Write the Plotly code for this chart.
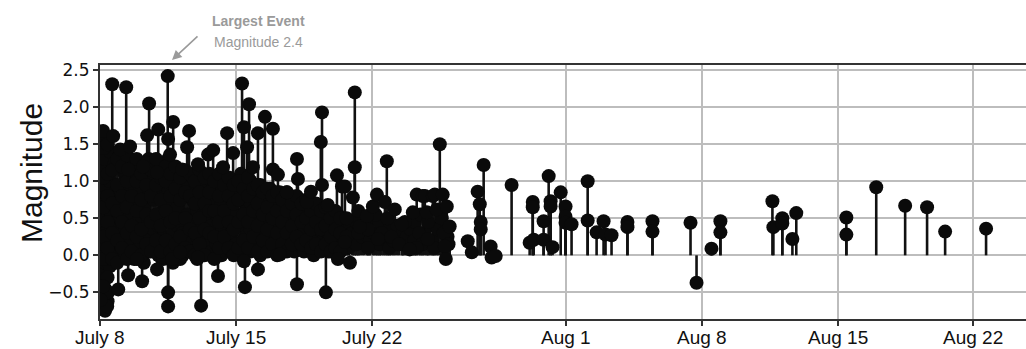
import pandas as pd
import plotly.graph_objects as go

# ---------------- data (days since July 8, magnitude) ----------------
start_date = "2023-07-08"

# dense swarm of small events, grouped by time column
swarm_day = [0.05, 0.12, 0.25, 0.5, 0.75, 1.0, 1.25, 1.5, 1.75, 2.0,
             2.25, 2.5, 2.75, 3.0, 3.25, 3.5, 3.75, 4.0, 4.25, 4.5,
             4.75, 5.0, 5.25, 5.5, 5.75, 6.0, 6.25, 6.5, 6.75, 7.0,
             7.25, 7.5, 7.75, 8.0, 8.25, 8.5, 8.75, 9.0, 9.25, 9.5,
             9.75, 10.0, 10.25, 10.5, 10.75, 11.0, 11.25, 11.5, 11.75, 12.0,
             12.25, 12.5, 12.8, 13.0, 13.2, 13.5, 13.6, 13.9, 14.1, 14.4,
             14.6, 14.9, 15.1, 15.3, 15.6, 15.8, 16.0, 16.2, 16.45, 16.6,
             17.0, 17.1, 17.4, 17.6, 17.9]
swarm_mags = [
    [1.62, 1.2, 0.8, 0.4, 0.0, -0.3, -0.72],
    [1.55, 0.95, 0.55, 0.15, -0.2, -0.6],
    [1.3, 0.7, 0.3, -0.1, -0.45, -0.75],
    [1.4, 1.0, 0.6, 0.2, -0.15],
    [1.25, 0.85, 0.45, 0.05],
    [1.35, 0.9, 0.5, 0.15],
    [1.1, 0.75, 0.35, 0.0],
    [1.3, 0.95, 0.55, 0.2],
    [1.05, 0.7, 0.3, -0.05],
    [1.25, 0.85, 0.5, 0.1],
    [1.15, 0.65, 0.25, -0.1],
    [1.3, 0.9, 0.45, 0.05],
    [1.05, 0.75, 0.35, 0.15],
    [1.2, 0.8, 0.4, 0.0],
    [1.1, 0.6, 0.25, -0.05],
    [1.3, 0.9, 0.5, 0.1],
    [1.15, 0.7, 0.3, -0.1],
    [1.0, 0.65, 0.4, 0.05],
    [1.1, 0.8, 0.3, 0.0],
    [0.95, 0.55, 0.2],
    [1.05, 0.75, 0.4, 0.05],
    [0.9, 0.6, 0.25, -0.05],
    [1.1, 0.7, 0.35, 0.1],
    [0.95, 0.5, 0.2],
    [1.0, 0.75, 0.4, 0.05],
    [0.9, 0.55, 0.15],
    [1.05, 0.7, 0.35, 0.0],
    [0.85, 0.5, 0.2],
    [1.0, 0.65, 0.3, 0.05],
    [0.9, 0.55, 0.15],
    [1.1, 0.75, 0.4, 0.0],
    [0.95, 0.6, 0.25],
    [1.0, 0.7, 0.35, 0.05],
    [0.85, 0.5, 0.15],
    [0.95, 0.6, 0.3, 0.0],
    [0.8, 0.45, 0.1],
    [0.9, 0.55, 0.25],
    [0.75, 0.4, 0.05],
    [0.85, 0.5, 0.2],
    [0.7, 0.35, 0.1],
    [0.8, 0.5, 0.15],
    [0.65, 0.3, 0.05],
    [0.75, 0.45, 0.15],
    [0.6, 0.3, 0.05],
    [0.7, 0.4, 0.1],
    [0.55, 0.25, 0.0],
    [0.65, 0.35, 0.1],
    [0.5, 0.2],
    [0.6, 0.3, 0.05],
    [0.45, 0.2],
    [0.55, 0.25, 0.05],
    [0.4, 0.15],
    [0.35, 0.1],
    [0.3],
    [0.45, 0.15],
    [0.25],
    [0.4],
    [0.2, 0.5],
    [0.3],
    [0.45, 0.15],
    [0.25],
    [0.35, 0.1],
    [0.2],
    [0.4],
    [0.15, 0.3],
    [0.25],
    [0.35],
    [0.45, 0.2],
    [0.3],
    [0.15],
    [0.4],
    [0.2],
    [0.35],
    [0.5],
    [0.25],
]

# second interleaved set of swarm columns
swarm2_day = [0.18, 0.38, 0.62, 0.88, 1.12, 1.38, 1.62, 1.88, 2.12, 2.38,
              2.62, 2.88, 3.12, 3.38, 3.62, 3.88, 4.12, 4.38, 4.62, 4.88,
              5.12, 5.38, 5.62, 5.88, 6.12, 6.38, 6.62, 6.88, 7.12, 7.38,
              7.62, 7.88, 8.12, 8.38, 8.62, 8.88, 9.12, 9.38, 9.62, 9.88,
              10.12, 10.38, 10.62, 10.88, 11.12, 11.38, 11.62, 11.88, 12.12, 12.38,
              12.7, 13.3, 13.8, 14.2, 14.5, 14.8, 15.0, 15.4, 15.7, 16.3,
              16.5, 16.9, 17.2, 17.7, 17.95]
swarm2_mags = [
    [1.45, 1.05, 0.65, 0.25, -0.05, -0.5],
    [1.5, 1.1, 0.8, 0.45, 0.1, -0.3, -0.62],
    [1.15, 0.7, 0.3, -0.05],
    [1.3, 0.95, 0.6, 0.2, -0.1],
    [1.2, 0.8, 0.45, 0.1],
    [1.35, 1.0, 0.65, 0.3, -0.05],
    [1.15, 0.8, 0.4, 0.05],
    [1.3, 1.0, 0.6, 0.25],
    [1.1, 0.75, 0.35, 0.0],
    [1.25, 0.95, 0.55, 0.15],
    [1.15, 0.8, 0.45, 0.05],
    [1.3, 0.95, 0.55, 0.2],
    [1.05, 0.75, 0.4, 0.05],
    [1.2, 1.0, 0.6, 0.2],
    [1.1, 0.8, 0.45, 0.05],
    [1.2, 0.9, 0.5, 0.15],
    [1.05, 0.75, 0.25, -0.05],
    [1.15, 0.85, 0.5, 0.1],
    [1.1, 0.8, 0.35, 0.05],
    [1.0, 0.7, 0.3, 0.0],
    [1.15, 0.85, 0.5, 0.15],
    [1.05, 0.7, 0.35, 0.0],
    [1.1, 0.85, 0.6, 0.3],
    [1.0, 0.6, 0.25, -0.05],
    [1.1, 0.8, 0.45, 0.1],
    [0.95, 0.6, 0.25],
    [1.05, 0.8, 0.45, 0.1],
    [0.95, 0.7, 0.35, 0.0],
    [1.0, 0.75, 0.45, 0.1],
    [0.9, 0.55, 0.2],
    [1.05, 0.8, 0.45, 0.1],
    [0.9, 0.6, 0.25],
    [0.95, 0.7, 0.4, 0.05],
    [0.85, 0.55, 0.2],
    [0.9, 0.65, 0.35, 0.05],
    [0.8, 0.5, 0.15],
    [0.85, 0.6, 0.3, 0.0],
    [0.75, 0.45, 0.15],
    [0.85, 0.6, 0.3, 0.05],
    [0.7, 0.4, 0.15],
    [0.8, 0.55, 0.25],
    [0.7, 0.45, 0.15],
    [0.75, 0.5, 0.2],
    [0.6, 0.35, 0.1],
    [0.7, 0.45, 0.15],
    [0.6, 0.35, 0.05],
    [0.65, 0.4, 0.15],
    [0.5, 0.25, 0.05],
    [0.6, 0.35, 0.1],
    [0.5, 0.3, 0.05],
    [0.5, 0.25],
    [0.6, 0.3],
    [0.35, 0.1],
    [0.55],
    [0.3],
    [0.5],
    [0.25],
    [0.15],
    [0.45],
    [0.1],
    [0.55],
    [0.45],
    [0.1],
    [0.3],
    [0.15],
]

# notable (larger / deeper) events during the swarm
peak_day = [0.15, 0.36, 0.41, 0.15, 0.02, 0.62, 0.67, 0.93, 1.03, 1.34,
            1.44, 1.44, 1.54, 1.90, 2.16, 2.21, 2.42, 2.52, 2.93, 2.93,
            2.99, 3.48, 3.50, 3.50, 3.50, 3.60, 3.71, 3.76, 4.12, 4.22,
            4.48, 4.58, 5.04, 5.04, 5.20, 5.56, 5.82, 6.07, 6.33, 6.54,
            6.85, 7.31, 7.41, 7.41, 7.46, 7.57, 7.67, 7.87, 8.13, 8.13,
            8.49, 8.90, 8.90, 9.16, 9.26, 9.62, 10.14, 10.19, 10.14, 10.65,
            10.86, 11.37, 11.43, 11.43, 11.63, 11.73, 12.20, 12.25, 12.46, 12.61,
            12.61, 12.87, 13.02, 13.12, 13.12, 13.38, 13.74, 14.05, 14.26, 14.31,
            14.67, 14.77, 15.18, 15.54, 15.95, 16.11, 16.31, 16.62, 16.73, 16.83,
            16.88, 17.14, 17.24, 17.34, 17.50, 17.65, 17.76, 17.81, 17.86, 18.01]
peak_mag = [1.68, -0.69, -0.50, -0.42, -0.60, 2.31, 1.61, -0.46, 1.43, 2.27,
            1.16, -0.27, 1.47, -0.05, -0.35, 1.20, 1.62, 2.05, 1.12, -0.19,
            1.70, 2.42, 1.57, -0.50, -0.69, 1.36, -0.05, 1.80, 0.04, 1.16,
            1.46, 1.68, 1.23, -0.03, -0.68, 1.36, 1.42, -0.28, 1.19, 1.65,
            1.38, 2.32, 1.73, -0.08, -0.43, 1.46, 2.04, 1.19, 1.65, -0.19,
            1.87, 1.71, 1.16, 1.09, 0.01, 0.85, 1.30, 1.03, -0.39, 0.72,
            0.86, 1.53, 1.93, 0.95, -0.50, 0.68, 1.08, -0.05, 0.93, 0.93,
            0.18, -0.10, 0.78, 2.20, 1.19, 0.39, 0.53, 0.66, 0.82, 0.22,
            0.72, 1.27, 0.62, 0.42, 0.08, 0.58, 0.82, 0.80, 0.80, 0.58,
            0.22, 0.80, 0.82, 0.62, 1.50, 0.82, 0.12, -0.05, 0.66, 0.39]

# later, sparse events
late_day = [18.94, 19.15, 19.45, 19.56, 19.61, 19.61, 19.76, 20.12, 20.17, 20.38,
            21.20, 22.13, 22.29, 22.29, 22.34, 22.85, 22.85, 23.11, 23.21, 23.21,
            23.31, 23.73, 23.98, 23.98, 23.98, 24.29, 25.12, 25.12, 25.58, 25.94,
            26.04, 26.35, 27.17, 27.17, 28.46, 28.46, 30.42, 30.73, 31.50, 31.96,
            31.96, 34.64, 34.69, 35.15, 35.15, 35.67, 35.87, 38.45, 38.45, 39.99,
            41.48, 42.61, 43.54, 45.65]
late_mag = [0.19, 0.04, 0.86, 0.69, 0.45, 0.35, 1.22, 0.12, -0.03, -0.01,
            0.95, 0.17, 0.72, 0.65, 0.21, 0.46, 0.21, 1.07, 0.73, 0.66,
            0.11, 0.85, 0.66, 0.52, 0.44, 0.42, 1.00, 0.47, 0.31, 0.46,
            0.28, 0.27, 0.45, 0.38, 0.46, 0.32, 0.44, -0.37, 0.09, 0.46,
            0.31, 0.73, 0.38, 0.50, 0.43, 0.22, 0.57, 0.51, 0.28, 0.92,
            0.67, 0.65, 0.32, 0.36]

tick_dates = ["2023-07-08", "2023-07-15", "2023-07-22", "2023-08-01",
              "2023-08-08", "2023-08-15", "2023-08-22"]
tick_labels = ["July 8", "July 15", "July 22", "Aug 1", "Aug 8", "Aug 15", "Aug 22"]
y_ticks = [-0.5, 0.0, 0.5, 1.0, 1.5, 2.0, 2.5]

# ---------------- build ----------------
assert len(swarm_day) == len(swarm_mags)
assert len(swarm2_day) == len(swarm2_mags)
assert len(peak_day) == len(peak_mag)
assert len(late_day) == len(late_mag)

days, mags = [], []
for dl, ml in ((swarm_day, swarm_mags), (swarm2_day, swarm2_mags)):
    for d, ms in zip(dl, ml):
        for m in ms:
            days.append(d)
            mags.append(m)
days += peak_day + late_day
mags += peak_mag + late_mag

t0 = pd.Timestamp(start_date)


def to_time(d):
    return (t0 + pd.Timedelta(days=d)).strftime("%Y-%m-%d %H:%M:%S")


times = [to_time(d) for d in days]

stem_x, stem_y = [], []
for t, m in zip(times, mags):
    stem_x += [t, t, None]
    stem_y += [0, m, None]

fig = go.Figure()
fig.add_trace(go.Scatter(x=stem_x, y=stem_y, mode="lines",
                         line=dict(color="#111111", width=2.6),
                         hoverinfo="skip", showlegend=False))
fig.add_trace(go.Scatter(x=times, y=mags, mode="markers",
                         marker=dict(size=14, color="#0a0a0a", line=dict(width=0)),
                         showlegend=False))

px_per_day = 19.41
plot_w = 926
plot_h = 254
x_end = to_time(plot_w / px_per_day)

grid_c = "#bdbdbd"
fig.update_layout(
    width=1026, height=349,
    margin=dict(l=100, r=0, t=65, b=30, autoexpand=False),
    plot_bgcolor="white", paper_bgcolor="white",
    showlegend=False,
    xaxis=dict(
        range=[to_time(-0.01), x_end],
        tickmode="array", tickvals=tick_dates, ticktext=tick_labels,
        showticklabels=False,
        showgrid=True, gridcolor=grid_c, gridwidth=1.5,
        showline=True, linecolor="#333333", linewidth=2, mirror=True,
        ticks="outside", ticklen=5, tickcolor="#333333", tickwidth=1.5,
        zeroline=False, automargin=False,
    ),
    yaxis=dict(
        range=[-0.86, 2.57],
        tickmode="array", tickvals=y_ticks, tickformat=".1f",
        showgrid=True, gridcolor=grid_c, gridwidth=1.5,
        showline=True, linecolor="#333333", linewidth=2,
        ticks="outside", ticklen=5, tickcolor="#333333", tickwidth=1.5,
        tickfont=dict(family="DejaVu Sans, sans-serif", size=17, color="#111"),
        zeroline=False, automargin=False,
    ),
)


def px_x(x):
    return (x - 100) / plot_w


def px_y(y):
    return (319 - y) / plot_h


# x tick labels (placed as text so they sit where the reference has them)
for tv, tl in zip(tick_dates, tick_labels):
    fig.add_annotation(text=tl, xref="x", yref="paper", x=tv, y=px_y(337),
                       xanchor="center", yanchor="middle", showarrow=False,
                       font=dict(family="Liberation Sans, Arial, sans-serif", size=19, color="#111"))

# y-axis title
fig.add_annotation(text="Magnitude", textangle=-90, xref="paper", yref="paper",
                   x=px_x(31), y=px_y(173), xanchor="center", yanchor="middle",
                   showarrow=False,
                   font=dict(family="Liberation Sans, Arial, sans-serif", size=30, color="#111"))

# largest event callout
fig.add_annotation(text="", xref="paper", yref="paper",
                   x=px_x(172), y=px_y(60), axref="pixel", ayref="pixel",
                   ax=27, ay=-25, showarrow=True,
                   arrowhead=2, arrowsize=1.2, arrowwidth=1.6, arrowcolor="#9a9a9a")
fig.add_annotation(text="<b>Largest Event</b>", xref="paper", yref="paper",
                   x=px_x(258), y=px_y(21), xanchor="center", yanchor="middle",
                   showarrow=False,
                   font=dict(family="Liberation Sans, Arial, sans-serif", size=14, color="#9a9a9a"))
fig.add_annotation(text="Magnitude 2.4", xref="paper", yref="paper",
                   x=px_x(258), y=px_y(42), xanchor="center", yanchor="middle",
                   showarrow=False,
                   font=dict(family="Liberation Sans, Arial, sans-serif", size=14, color="#9a9a9a"))

fig.write_html("out.html", config={"displayModeBar": False},
               post_script="document.body.style.margin='0';document.body.style.overflow='hidden';")
